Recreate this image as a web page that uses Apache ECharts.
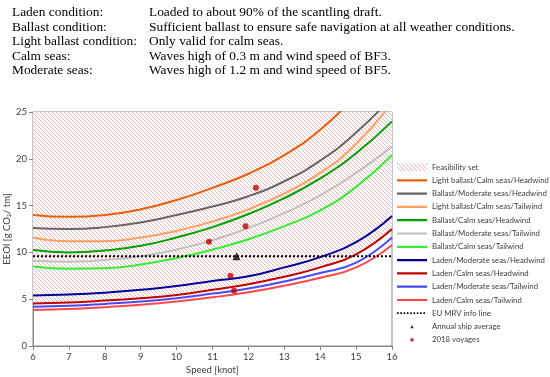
<!DOCTYPE html>
<html><head><meta charset="utf-8">
<script src="https://cdn.jsdelivr.net/npm/echarts@6/dist/echarts.min.js"></script>
<style>html,body{margin:0;padding:0;background:#fff}#c{width:550px;height:377px}</style>
</head><body><div id="c"></div>
<script>
// ---- data ----
const speeds = [6, 7, 8, 9, 10, 11, 12, 13, 14, 15, 16];
const lbCalmHead   = [14.0, 13.8, 14.0, 14.6, 15.6, 16.9, 18.4, 20.4, 23.1, 26.8, 31.0];
const balModHead   = [12.6, 12.5, 12.7, 13.2, 14.0, 14.9, 16.0, 17.6, 19.8, 22.8, 26.6];
const lbCalmTail   = [11.6, 11.2, 11.2, 11.6, 12.3, 13.3, 14.6, 16.3, 18.5, 21.6, 26.0];
const balCalmHead  = [10.25, 10.0, 10.2, 10.7, 11.6, 12.7, 14.1, 15.8, 17.9, 20.6, 24.0];
const balModTail   = [9.1, 9.0, 9.2, 9.6, 10.3, 11.3, 12.6, 14.2, 16.1, 18.5, 21.3];
const balCalmTail  = [8.5, 8.25, 8.3, 8.7, 9.4, 10.3, 11.4, 12.8, 14.5, 17.0, 20.4];
const ladModHead   = [5.4, 5.5, 5.7, 6.0, 6.4, 6.95, 7.45, 8.4, 9.5, 11.1, 13.9];
const ladCalmHead  = [4.55, 4.65, 4.85, 5.1, 5.45, 6.0, 6.6, 7.4, 8.4, 9.8, 12.5];
const ladModTail   = [4.2, 4.3, 4.5, 4.75, 5.1, 5.6, 6.15, 6.9, 7.8, 8.9, 11.6];
const ladCalmTail  = [3.85, 3.95, 4.15, 4.4, 4.75, 5.2, 5.75, 6.45, 7.3, 8.4, 10.8];
const mrvSpeeds = [6, 16];
const mrvValue = 9.6;
const annualAvg = [[11.67, 9.6]];
const voyages2018 = [[12.21, 16.9], [11.92, 12.8], [10.9, 11.15], [11.5, 7.5], [11.6, 5.9]];
const xTicks = {min: 6, max: 16, interval: 1};
const yTicks = {min: 0, max: 25, interval: 5};
const notes = [
  ['Laden condition:', 'Loaded to about 90% of the scantling draft.'],
  ['Ballast condition:', 'Sufficient ballast to ensure safe navigation at all weather conditions.'],
  ['Light ballast condition:', 'Only valid for calm seas.'],
  ['Calm seas:', 'Waves high of 0.3 m and wind speed of BF3.'],
  ['Moderate seas:', 'Waves high of 1.2 m and wind speed of BF5.']
];

// ---- hatch pattern ----
const cv = document.createElement('canvas');
cv.width = 4; cv.height = 4;
const cx = cv.getContext('2d');
cx.fillStyle = '#ffffff'; cx.fillRect(0,0,4,4);
cx.strokeStyle = '#F6B6B6'; cx.lineWidth = 1;
cx.beginPath();
cx.moveTo(-1,-1); cx.lineTo(5,5);
cx.moveTo(-1,3); cx.lineTo(1,5);
cx.moveTo(3,-1); cx.lineTo(5,1);
cx.stroke();
const hatch = {image: cv, repeat: 'repeat'};

// legend icon shapes (bounding box 30x8)
const BOX = 'M0,0h0.01v0.01h-0.01z M29.99,7.99h0.01v0.01h-0.01z ';
const ICON_LINE = 'path://' + BOX + 'M0,2.9h30v2.2h-30z';
const ICON_DOTS = 'path://' + BOX + 'M0,3h1.6v1.6h-1.6z M3.3,3h1.6v1.6h-1.6z M6.6,3h1.6v1.6h-1.6z M9.9,3h1.6v1.6h-1.6z M13.2,3h1.6v1.6h-1.6z M16.5,3h1.6v1.6h-1.6z M19.8,3h1.6v1.6h-1.6z M23.1,3h1.6v1.6h-1.6z M26.4,3h1.6v1.6h-1.6z';
const ICON_TRI = 'path://' + BOX + 'M13.3,5.6L15,2.4L16.7,5.6z';
const ICON_DOT = 'path://' + BOX + 'M15,2.2A1.8,1.8 0 1,1 14.99,2.2z';

const pair = arr => speeds.map((s,i)=>[s, arr[i]]);
function lineSeries(name, arr, color, z){
  return {name, type:'line', data: pair(arr), smooth: true, symbol:'none',
    lineStyle:{color, width:2}, itemStyle:{color}, z: z||3, silent:true};
}

const series = [
  {name:'Feasibility set', type:'line', data: pair(ladCalmHead), smooth:true, symbol:'none',
   lineStyle:{width:0, opacity:0}, areaStyle:{origin:'end', color: hatch, opacity:1}, itemStyle:{color: hatch}, z:1, silent:true},
  lineSeries('Light ballast/Calm seas/Headwind', lbCalmHead, '#E8600E'),
  lineSeries('Ballast/Moderate seas/Headwind', balModHead, '#666666'),
  lineSeries('Light ballast/Calm seas/Tailwind', lbCalmTail, '#FFA062'),
  lineSeries('Ballast/Calm seas/Headwind', balCalmHead, '#00A000'),
  lineSeries('Ballast/Moderate seas/Tailwind', balModTail, '#C0C0C0'),
  lineSeries('Ballast/Calm seas/Tailwind', balCalmTail, '#33EE33'),
  lineSeries('Laden/Moderate seas/Headwind', ladModHead, '#000099'),
  lineSeries('Laden/Calm seas/Headwind', ladCalmHead, '#C00000'),
  lineSeries('Laden/Moderate seas/Tailwind', ladModTail, '#4848FF'),
  lineSeries('Laden/Calm seas/Tailwind', ladCalmTail, '#FF4848'),
  {name:'EU MRV info line', type:'line', data: mrvSpeeds.map(s=>[s, mrvValue]), symbol:'none',
   lineStyle:{color:'#000', width:2, type:[2,2]}, itemStyle:{color:'#000'}, z:4, silent:true},
  {name:'Annual ship average', type:'scatter', data: annualAvg, symbol:'triangle', symbolSize:8,
   itemStyle:{color:'#000'}, z:5, silent:true},
  {name:'2018 voyages', type:'scatter', data: voyages2018, symbol:'circle', symbolSize:6,
   itemStyle:{color:'#C00000'}, z:5, silent:true}
];

const legendData = series.map(s=>{
  if (s.name === 'Feasibility set') return {name:s.name, icon:'rect', itemStyle:{color:hatch}};
  if (s.name === 'EU MRV info line') return {name:s.name, icon:ICON_DOTS};
  if (s.name === 'Annual ship average') return {name:s.name, icon:ICON_TRI};
  if (s.name === '2018 voyages') return {name:s.name, icon:ICON_DOT};
  return {name:s.name, icon:ICON_LINE};
});

const graphics = [];
notes.forEach((n,i)=>{
  const y = 13.5 + i*14.5;
  graphics.push({type:'text', left:12, top: y-7.5, style:{text:n[0], font:'13.4px "Liberation Serif"', fill:'#000'}});
  graphics.push({type:'text', left:149, top: y-7.5, style:{text:n[1], font:'13.4px "Liberation Serif"', fill:'#000'}});
});

const chart = echarts.init(document.getElementById('c'), null, {renderer:'canvas'});
chart.setOption({
  animation:false,
  backgroundColor:'#fff',
  grid:{left:33, top:112, right:158, bottom:31, outerBoundsMode:'none', containLabel:false,
    show:true, borderColor:'#8c8c8c', borderWidth:1, backgroundColor:'transparent'},
  xAxis:{type:'value', min:xTicks.min, max:xTicks.max, interval:xTicks.interval,
    name:'Speed [knot]', nameLocation:'middle', nameGap:19, nameMoveOverlap:false,
    nameTextStyle:{fontFamily:'Lato', fontSize:9.5, color:'#404040'},
    axisLine:{lineStyle:{color:'#868686'}}, axisTick:{show:true, length:4, lineStyle:{color:'#868686'}},
    axisLabel:{fontFamily:'Lato', fontSize:9.5, color:'#404040', margin:6},
    splitLine:{show:false}},
  yAxis:{type:'value', min:yTicks.min, max:yTicks.max, interval:yTicks.interval,
    name:'EEOI [g CO\u2082/ tm]', nameLocation:'middle', nameGap:21, nameMoveOverlap:false,
    nameTextStyle:{fontFamily:'Lato', fontSize:9.5, color:'#404040'},
    axisLine:{show:true, lineStyle:{color:'#868686'}}, axisTick:{show:true, length:4, lineStyle:{color:'#868686'}},
    axisLabel:{fontFamily:'Lato', fontSize:9.5, color:'#404040', margin:6},
    splitLine:{show:false}},
  legend:{orient:'vertical', left:397, top:163, padding:0, itemWidth:30, itemHeight:8, itemGap:5.3,
    textStyle:{fontFamily:'Lato', fontSize:7.8, color:'#404040', lineHeight:8},
    data: legendData},
  graphic: graphics,
  series
});
</script></body></html>
